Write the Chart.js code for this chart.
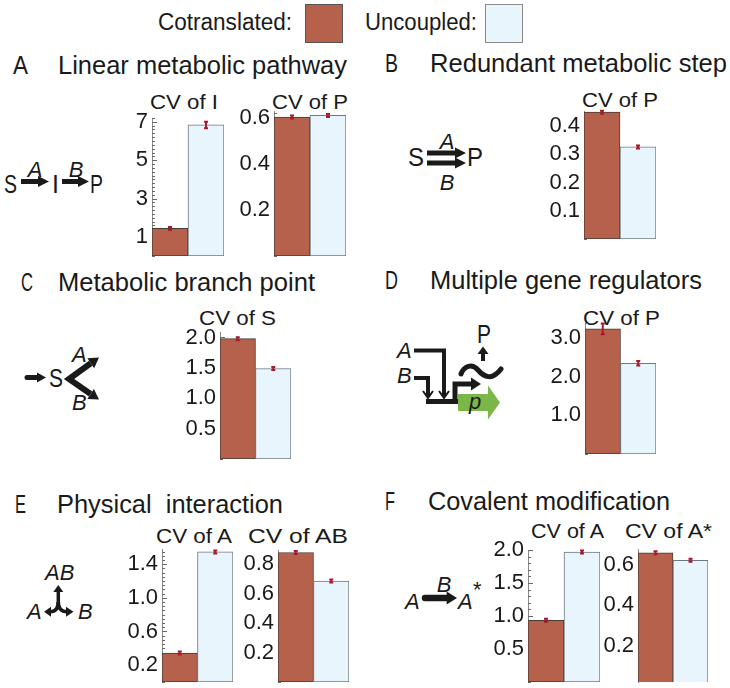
<!DOCTYPE html>
<html>
<head>
<meta charset="utf-8">
<script src="https://cdn.jsdelivr.net/npm/chart.js@4.4.1/dist/chart.umd.min.js"></script>
<style>
  body { margin: 0; background: #fff; }
  #fig { position: relative; width: 730px; height: 688px; overflow: hidden; }
  #fig canvas { position: absolute; }
  #art { position: absolute; left: 0; top: 0; }
  .lbl { font-size: 26px; }
  .ttl { font-size: 25px; }
  .sub { font-size: 21px; }
  .it { font-style: italic; font-size: 22px; }
  .up { font-size: 25px; }
</style>
</head>
<body>
<div id="fig">
<svg id="art" width="730" height="688" xmlns="http://www.w3.org/2000/svg" font-family="Liberation Sans, Arial, sans-serif" fill="#1a1a1a">
  <!-- legend -->
  <text x="158" y="30" font-size="23" textLength="134" lengthAdjust="spacingAndGlyphs">Cotranslated:</text>
  <rect x="305.5" y="4.5" width="37" height="38" fill="#b6614b" stroke="#555"/>
  <text x="365" y="30" font-size="23" textLength="112" lengthAdjust="spacingAndGlyphs">Uncoupled:</text>
  <rect x="485.5" y="4.5" width="37" height="38" fill="#e9f5fd" stroke="#8a8a8a"/>

  <!-- panel letters and titles -->
  <text class="lbl" x="13" y="74" textLength="15" lengthAdjust="spacingAndGlyphs">A</text>
  <text class="ttl" x="58" y="74" textLength="289" lengthAdjust="spacingAndGlyphs">Linear metabolic pathway</text>
  <text class="lbl" x="385" y="72" textLength="13" lengthAdjust="spacingAndGlyphs">B</text>
  <text class="ttl" x="430" y="72" textLength="297" lengthAdjust="spacingAndGlyphs">Redundant metabolic step</text>
  <text class="lbl" x="21" y="291" textLength="12" lengthAdjust="spacingAndGlyphs">C</text>
  <text class="ttl" x="58" y="291" textLength="257" lengthAdjust="spacingAndGlyphs">Metabolic branch point</text>
  <text class="lbl" x="385" y="289" textLength="13" lengthAdjust="spacingAndGlyphs">D</text>
  <text class="ttl" x="430" y="289" textLength="272" lengthAdjust="spacingAndGlyphs">Multiple gene regulators</text>
  <text class="lbl" x="15" y="513" textLength="11" lengthAdjust="spacingAndGlyphs">E</text>
  <text class="ttl" x="57" y="513" textLength="226" lengthAdjust="spacingAndGlyphs">Physical&#160; interaction</text>
  <text class="lbl" x="385" y="510" textLength="10" lengthAdjust="spacingAndGlyphs">F</text>
  <text class="ttl" x="428" y="510" textLength="242" lengthAdjust="spacingAndGlyphs">Covalent modification</text>

  <!-- chart titles -->
  <text class="sub" x="150" y="109" textLength="68" lengthAdjust="spacingAndGlyphs">CV of I</text>
  <text class="sub" x="272" y="109" textLength="76" lengthAdjust="spacingAndGlyphs">CV of P</text>
  <text class="sub" x="582" y="107" textLength="76" lengthAdjust="spacingAndGlyphs">CV of P</text>
  <text class="sub" x="199" y="325" textLength="77" lengthAdjust="spacingAndGlyphs">CV of S</text>
  <text class="sub" x="583" y="325" textLength="77" lengthAdjust="spacingAndGlyphs">CV of P</text>
  <text class="sub" x="156" y="543" textLength="76" lengthAdjust="spacingAndGlyphs">CV of A</text>
  <text class="sub" x="248" y="543" textLength="100" lengthAdjust="spacingAndGlyphs">CV of AB</text>
  <text class="sub" x="531" y="538" textLength="73" lengthAdjust="spacingAndGlyphs">CV of A</text>
  <text class="sub" x="625" y="538" textLength="87" lengthAdjust="spacingAndGlyphs">CV of A*</text>

  <!-- A: S -A-> I -B-> P -->
  <text class="up" x="4" y="193" textLength="13" lengthAdjust="spacingAndGlyphs">S</text>
  <polygon points="21,179 38,179 38,176 49,181.5 38,187 38,184 21,184"/>
  <text class="it" x="35" y="177" text-anchor="middle">A</text>
  <text class="up" x="52" y="193">I</text>
  <polygon points="62,179 78,179 78,176 89,181.5 78,187 78,184 62,184"/>
  <text class="it" x="76" y="177" text-anchor="middle">B</text>
  <text class="up" x="90" y="193" textLength="13" lengthAdjust="spacingAndGlyphs">P</text>

  <!-- B: redundant step -->
  <text class="up" x="408" y="166" textLength="16" lengthAdjust="spacingAndGlyphs">S</text>
  <polygon points="427,150.5 455,150.5 455,147.5 466,153 455,158.5 455,155.5 427,155.5"/>
  <polygon points="427,160.5 455,160.5 455,157.5 466,163 455,168.5 455,165.5 427,165.5"/>
  <text class="up" x="467" y="166" textLength="16" lengthAdjust="spacingAndGlyphs">P</text>
  <text class="it" x="447" y="149" text-anchor="middle">A</text>
  <text class="it" x="447" y="190" text-anchor="middle">B</text>

  <!-- C: branch point -->
  <line x1="27" y1="377.5" x2="38" y2="377.5" stroke="#1a1a1a" stroke-width="5" stroke-linecap="round"/>
  <polygon points="37,372.5 46,377.5 37,382.5"/>
  <text class="up" x="49" y="387" textLength="14" lengthAdjust="spacingAndGlyphs">S</text>
  <polyline points="90.75,363.2 69,379 90.64,394" fill="none" stroke="#1a1a1a" stroke-width="6" stroke-miterlimit="6"/>
  <polygon points="99,357.5 94.15,368.15 87.35,358.25"/>
  <polygon points="99,399.5 87.35,399.04 93.93,389"/>
  <text class="it" x="72" y="362">A</text>
  <text class="it" x="72" y="410">B</text>

  <!-- D: gene regulators -->
  <text class="it" x="397" y="358">A</text>
  <text class="it" x="397" y="383">B</text>
  <polyline points="414,350.5 444,350.5 444,396" fill="none" stroke="#1a1a1a" stroke-width="4"/>
  <polyline points="414,378 428,378 428,396" fill="none" stroke="#1a1a1a" stroke-width="4"/>
  <polyline points="439,391 444,398 449,391" fill="none" stroke="#1a1a1a" stroke-width="2"/>
  <polyline points="423,391 428,398 433,391" fill="none" stroke="#1a1a1a" stroke-width="2"/>
  <line x1="426" y1="401.5" x2="460" y2="401.5" stroke="#1a1a1a" stroke-width="5"/>
  <polyline points="455,403 455,384 472,384" fill="none" stroke="#1a1a1a" stroke-width="5"/>
  <polygon points="471,377.5 481,384 471,390.5"/>
  <polygon points="458,394 488,394 488,385.5 500,402.5 488,419.5 488,411 458,411" fill="#7ab648"/>
  <text class="it" x="469" y="409" font-size="23">p</text>
  <path d="M461,374 C464,366 472,363 478,370 S492,381 501,369" fill="none" stroke="#1a1a1a" stroke-width="5" stroke-linecap="round"/>
  <line x1="483" y1="361" x2="483" y2="352" stroke="#1a1a1a" stroke-width="4"/>
  <polygon points="477.5,354 483,346.5 488.5,354"/>
  <text class="up" x="477" y="343" font-size="22" textLength="14" lengthAdjust="spacingAndGlyphs">P</text>

  <!-- E: physical interaction -->
  <text class="it" x="45" y="580" font-size="21">AB</text>
  <text class="it" x="27" y="619">A</text>
  <text class="it" x="78" y="619">B</text>
  <line x1="58.3" y1="606" x2="58.3" y2="591" stroke="#1a1a1a" stroke-width="3.5"/>
  <polygon points="53.3,592 58.3,585 63.3,592"/>
  <path d="M58.3,602 Q58.3,611.7 50,611.7" fill="none" stroke="#1a1a1a" stroke-width="3.5"/>
  <polygon points="51,606.7 44,611.7 51,616.7"/>
  <path d="M58.3,602 Q58.3,611.7 67,611.7" fill="none" stroke="#1a1a1a" stroke-width="3.5"/>
  <polygon points="66,606.7 73.5,611.7 66,616.7"/>

  <!-- F: covalent modification -->
  <text class="it" x="405" y="609">A</text>
  <line x1="425" y1="598" x2="448" y2="598" stroke="#1a1a1a" stroke-width="6.5" stroke-linecap="round"/>
  <polygon points="446.7,591.5 457,598 446.7,604.5"/>
  <text class="it" x="444" y="592" text-anchor="middle">B</text>
  <text class="it" x="458" y="609">A</text>
  <text class="it" x="472" y="597" font-size="17">*</text>
</svg>
</div>

<script>
// bar groups
const groups = ['Cotranslated', 'Uncoupled'];
const barFill = ['#b6614b', '#e9f5fd'];
const barEdge = ['#4a3a35', '#6c7882'];

// A: linear metabolic pathway
const linearI = [1.44, 6.84];
const linearIErr = [0.05, 0.17];
const linearITicks = [1, 3, 5, 7];
const linearP = [0.603, 0.610];
const linearPErr = [0.004, 0.005];
const linearPTicks = [0.2, 0.4, 0.6];

// B: redundant metabolic step
const redundantP = [0.449, 0.326];
const redundantPErr = [0.003, 0.003];
const redundantPTicks = [0.1, 0.2, 0.3, 0.4];

// C: metabolic branch point
const branchS = [1.98, 1.49];
const branchSErr = [0.025, 0.02];
const branchSTicks = [0.5, 1.0, 1.5, 2.0];

// D: multiple gene regulators
const regulatorsP = [3.24, 2.35];
const regulatorsPErr = [0.14, 0.06];
const regulatorsPTicks = [1.0, 2.0, 3.0];

// E: physical interaction
const physicalA = [0.345, 1.545];
const physicalAErr = [0.008, 0.012];
const physicalATicks = [0.2, 0.6, 1.0, 1.4];
const physicalAB = [0.88, 0.686];
const physicalABErr = [0.006, 0.004];
const physicalABTicks = [0.2, 0.4, 0.6, 0.8];

// F: covalent modification
const covalentA = [0.935, 1.97];
const covalentAErr = [0.012, 0.02];
const covalentATicks = [0.5, 1.0, 1.5, 2.0];
const covalentAstar = [0.658, 0.621];
const covalentAstarErr = [0.004, 0.004];
const covalentAstarTicks = [0.2, 0.4, 0.6];

Chart.defaults.font.family = "'Liberation Sans', Arial, sans-serif";

// small inward tick marks on the value axis
const axisTicks = {
  id: 'axisTicks',
  beforeDatasetsDraw(chart, args, opts) {
    const y = chart.scales.y;
    const ctx = chart.ctx;
    const x0 = chart.chartArea.left;
    const majors = y.ticks.map(t => t.value);
    ctx.save();
    ctx.strokeStyle = '#6a6a6a';
    ctx.lineWidth = 1;
    const n0 = Math.ceil(y.min / opts.step - 1e-6);
    const n1 = Math.floor(y.max / opts.step + 1e-6);
    for (let k = n0; k <= n1; k++) {
      const v = k * opts.step;
      const major = majors.some(m => Math.abs(m - v) < opts.step / 2);
      const py = Math.round(y.getPixelForValue(v)) + 0.5;
      ctx.beginPath();
      ctx.moveTo(x0, py);
      ctx.lineTo(x0 + (major ? 5 : 3), py);
      ctx.stroke();
    }
    ctx.restore();
  }
};

// error bars on top of the bars
const errorBars = {
  id: 'errorBars',
  afterDatasetsDraw(chart, args, opts) {
    const y = chart.scales.y;
    const ctx = chart.ctx;
    const values = chart.data.datasets[0].data;
    ctx.save();
    ctx.strokeStyle = '#a8192c';
    ctx.lineWidth = 2;
    chart.getDatasetMeta(0).data.forEach((bar, i) => {
      let top = y.getPixelForValue(values[i] + opts.errors[i]);
      let bot = y.getPixelForValue(values[i] - opts.errors[i]);
      if (bot - top < 3) {
        const mid = (top + bot) / 2;
        top = mid - 1.5;
        bot = mid + 1.5;
      }
      ctx.beginPath();
      ctx.moveTo(bar.x, top);
      ctx.lineTo(bar.x, bot);
      ctx.moveTo(bar.x - 2, top);
      ctx.lineTo(bar.x + 2, top);
      ctx.moveTo(bar.x - 2, bot);
      ctx.lineTo(bar.x + 2, bot);
      ctx.stroke();
    });
    ctx.restore();
  }
};

const panels = [
  {values: linearI, errors: linearIErr, ticks: linearITicks, digits: 0, min: 0, max: 7.2, minor: 0.2, left: 152, top: 118, width: 72, height: 138},
  {values: linearP, errors: linearPErr, ticks: linearPTicks, digits: 1, min: 0, max: 0.629, minor: 0.02, left: 274, top: 111, width: 72, height: 145},
  {values: redundantP, errors: redundantPErr, ticks: redundantPTicks, digits: 1, min: 0, max: 0.453, minor: 0.02, left: 584, top: 111, width: 72, height: 128},
  {values: branchS, errors: branchSErr, ticks: branchSTicks, digits: 1, min: 0, max: 2.09, minor: 0.1, left: 220, top: 332, width: 71, height: 127},
  {values: regulatorsP, errors: regulatorsPErr, ticks: regulatorsPTicks, digits: 1, min: 0, max: 3.42, minor: 0.2, left: 585, top: 322, width: 71, height: 132},
  {values: physicalA, errors: physicalAErr, ticks: physicalATicks, digits: 1, min: 0, max: 1.58, minor: 0.05, left: 162, top: 549, width: 71, height: 133},
  {values: physicalAB, errors: physicalABErr, ticks: physicalABTicks, digits: 1, min: 0, max: 0.897, minor: 0.05, left: 278, top: 550, width: 71, height: 132},
  {values: covalentA, errors: covalentAErr, ticks: covalentATicks, digits: 1, min: 0, max: 2.0, minor: 0.1, left: 528, top: 550, width: 72, height: 132},
  {values: covalentAstar, errors: covalentAstarErr, ticks: covalentAstarTicks, digits: 1, min: 0.02, max: 0.677, minor: 0.05, left: 638, top: 549, width: 70, height: 133}
];

const fig = document.getElementById('fig');

function drawPanel(p) {
  const padTop = 16, padBottom = 14, axisW = 48;
  const canvas = document.createElement('canvas');
  canvas.width = axisW + p.width + 2;
  canvas.height = p.height + padTop + padBottom;
  canvas.style.left = (p.left - axisW) + 'px';
  canvas.style.top = (p.top - padTop) + 'px';
  fig.appendChild(canvas);

  new Chart(canvas, {
    type: 'bar',
    data: {
      labels: groups,
      datasets: [{
        data: p.values,
        backgroundColor: barFill,
        borderColor: barEdge,
        borderWidth: 1,
        borderSkipped: false,
        barPercentage: 1,
        categoryPercentage: 1
      }]
    },
    options: {
      responsive: false,
      animation: false,
      layout: {padding: {top: padTop, bottom: padBottom, left: 0, right: 2}},
      plugins: {
        legend: {display: false},
        tooltip: {enabled: false},
        errorBars: {errors: p.errors},
        axisTicks: {step: p.minor}
      },
      scales: {
        x: {display: false},
        y: {
          min: p.min,
          max: p.max,
          afterBuildTicks: s => { s.ticks = p.ticks.map(v => ({value: v})); },
          afterFit: s => { s.width = axisW; s.paddingTop = 0; s.paddingBottom = 0; },
          grid: {drawOnChartArea: false, drawTicks: false},
          border: {color: '#8a8a8a', width: 1},
          ticks: {
            padding: 4,
            color: '#1a1a1a',
            font: {size: 22},
            callback: v => v.toFixed(p.digits)
          }
        }
      }
    },
    plugins: [axisTicks, errorBars]
  });
}

panels.forEach(drawPanel);
</script>
</body>
</html>
